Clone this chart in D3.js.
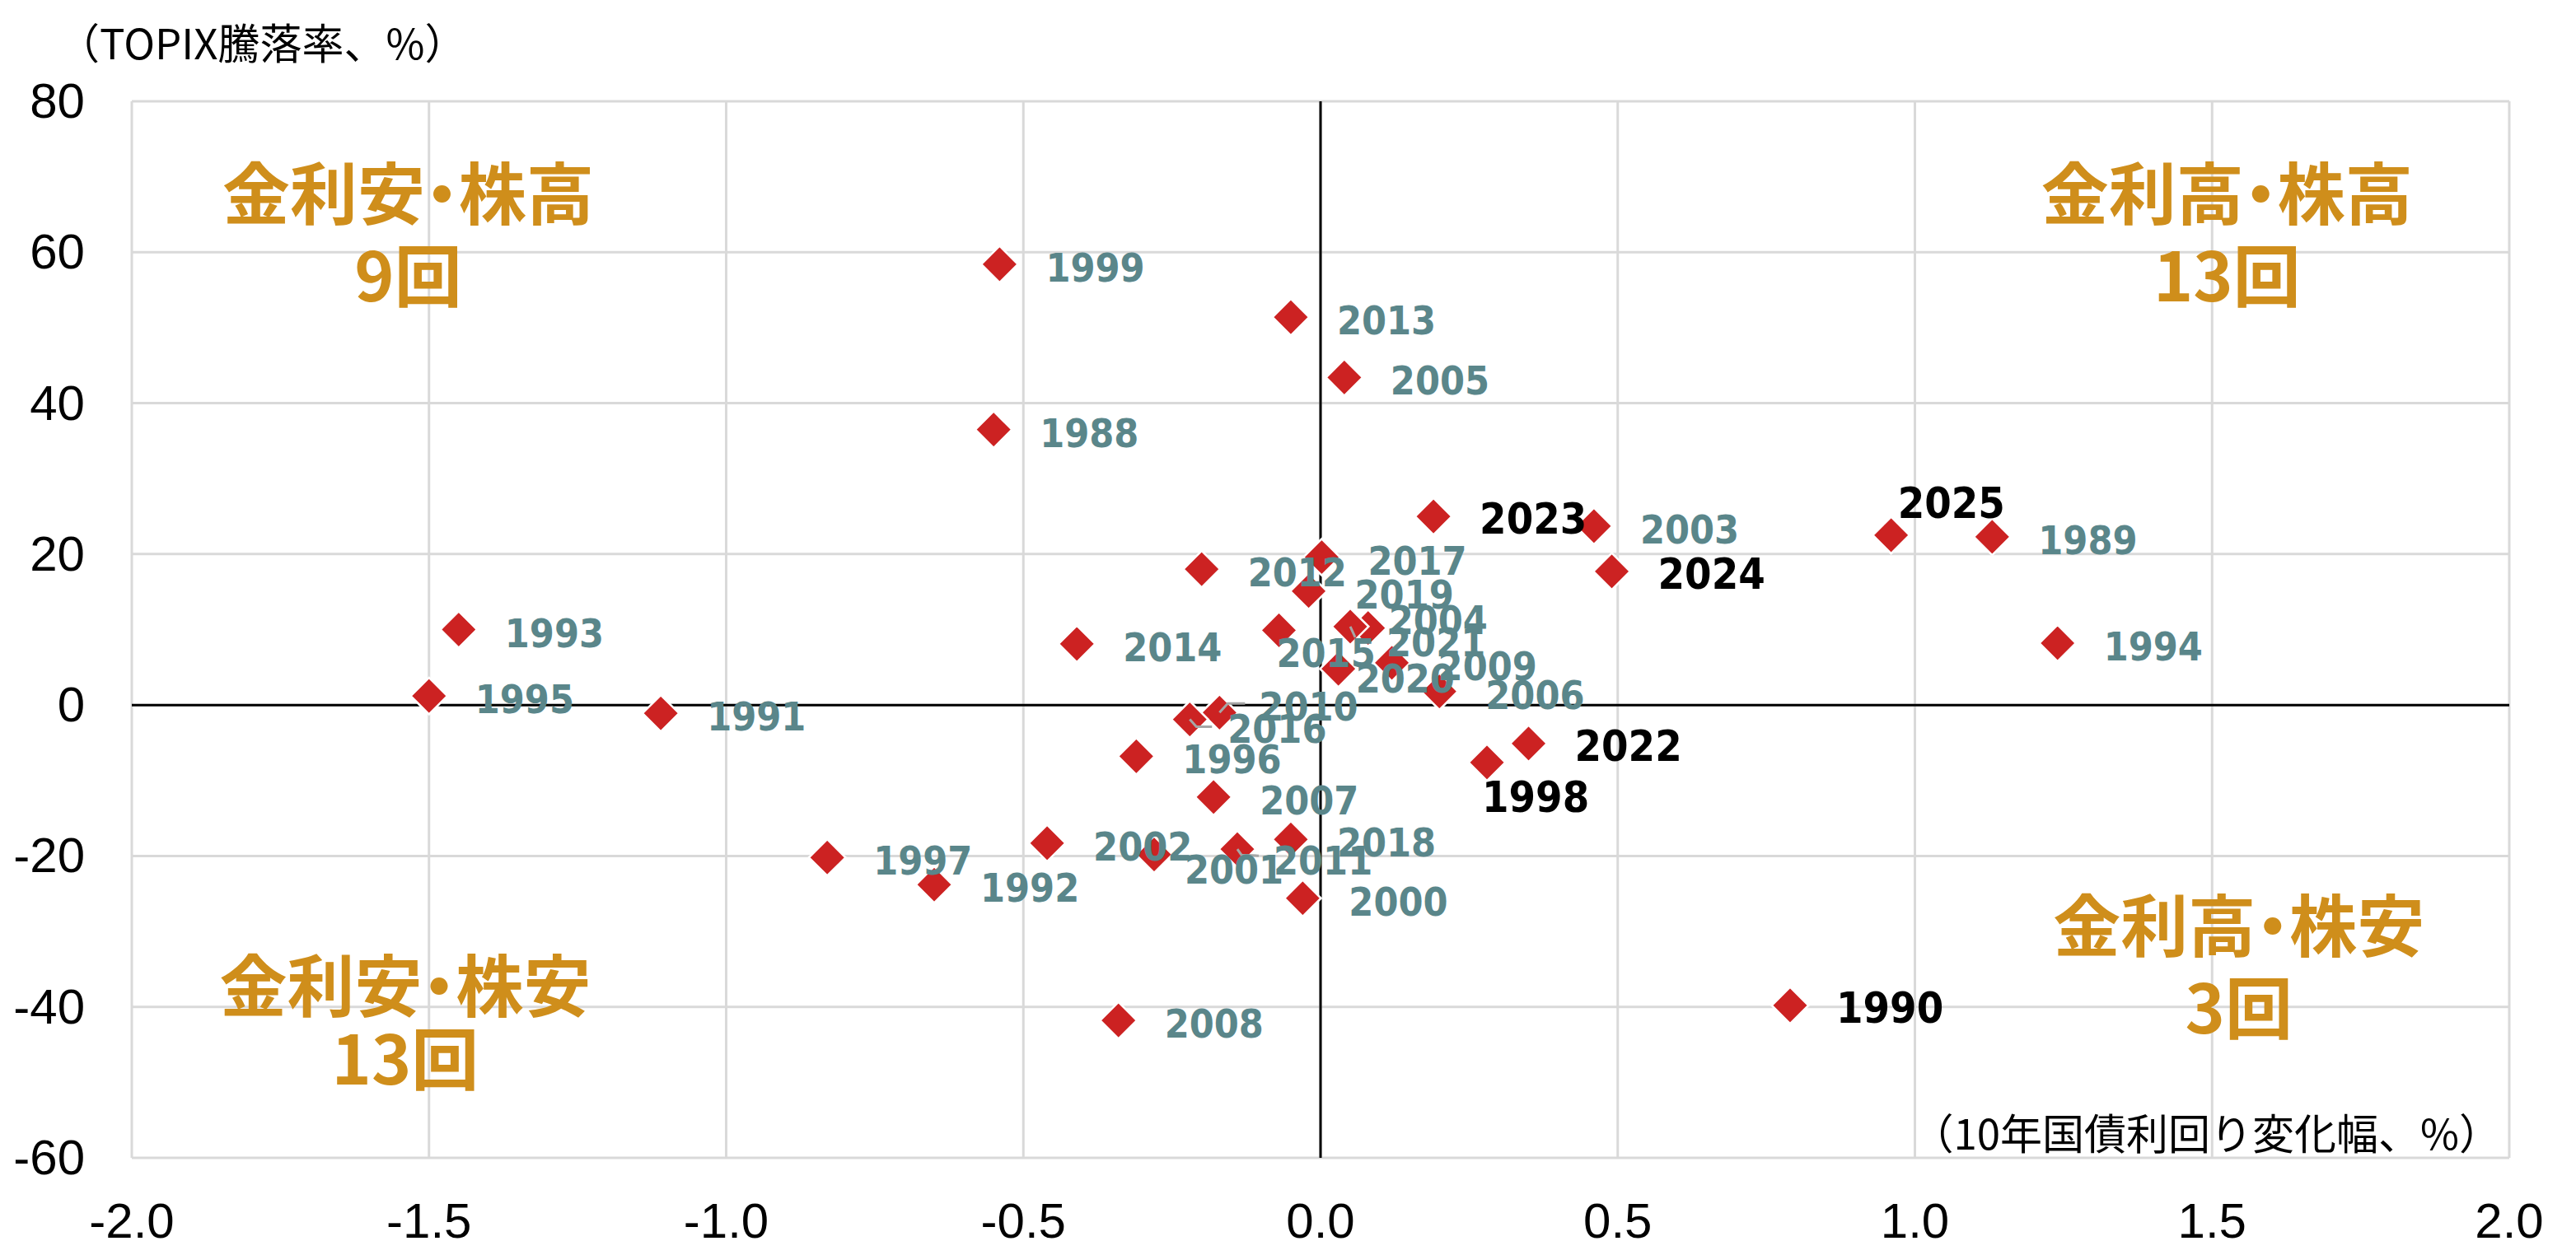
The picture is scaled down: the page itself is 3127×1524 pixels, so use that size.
<!DOCTYPE html>
<html>
<head>
<meta charset="utf-8">
<script src="https://cdn.jsdelivr.net/npm/d3@7"></script>
<style>
  body { margin:0; background:#fff; }
  .tick-label { font-family:'Liberation Sans', Arial, sans-serif; font-size:60px; fill:#000; }
  .axis-title { font-family:'Noto Sans CJK JP', sans-serif; font-size:51px; fill:#000; }
  .quad { font-family:'Noto Sans CJK JP', sans-serif; font-weight:700; font-size:82px; fill:#CF8E1B; text-anchor:middle;
          font-feature-settings:'palt'; }
  .year { font-family:'DejaVu Sans Condensed','DejaVu Sans', sans-serif; font-stretch:condensed; font-weight:700; font-size:48px; fill:#5A868A; }
  .year.hot { fill:#000; font-size:52px; }
</style>
</head>
<body>
<svg id="chart" width="3127" height="1524"></svg>
<script>
// data: 10y JGB yield change (%pt) vs TOPIX annual change (%)
var years = [1988,1989,1990,1991,1992,1993,1994,1995,1996,1997,1998,1999,2000,2001,2002,2003,2004,2005,2006,
             2007,2008,2009,2010,2011,2012,2013,2014,2015,2016,2017,2018,2019,2020,2021,2022,2023,2024,2025];
var rateChange = [-0.55,1.13,0.79,-1.11,-0.65,-1.45,1.24,-1.50,-0.31,-0.83,0.28,-0.54,-0.03,-0.28,-0.46,0.46,0.08,0.04,0.20,
                  -0.18,-0.34,0.12,-0.17,-0.14,-0.20,-0.05,-0.41,-0.07,-0.22,0.002,-0.05,-0.02,0.03,0.05,0.35,0.19,0.49,0.96];
var topixChange = [36.5,22.3,-39.8,-1.1,-23.8,10.0,8.2,1.2,-6.8,-20.2,-7.6,58.4,-25.6,-19.8,-18.3,23.7,10.2,43.4,1.8,
                   -12.2,-41.8,5.6,-1.0,-19.1,18.0,51.4,8.1,9.9,-1.9,19.6,-17.8,15.1,4.8,10.4,-5.1,25.0,17.7,22.5];
var blackYears = [1990,1998,2022,2023,2024,2025];
var xTicks = [-2.0,-1.5,-1.0,-0.5,0.0,0.5,1.0,1.5,2.0];
var yTicks = [-60,-40,-20,0,20,40,60,80];
var quadNames = ['金利安・株高','金利高・株高','金利安・株安','金利高・株安'];

// label nudges (px) where the default right-side label was moved
var labelNudge = {
  2025:[8,-39], 1998:[-6,42], 2004:[25,-11], 2021:[44,18], 2015:[-3,27], 2020:[21,11],
  2010:[48,-8], 2016:[46,10], 2011:[44,13], 2001:[37,17]
};
var leaders = {
  2010:[[10,-11],[31,-11]], 2016:[[8,9],[27,9]], 2011:[[5,7],[26,8]], 2021:[[6,13]]
};
// quadrant text position, in data units: [x, line1 y, line2 y]
var quadPos = [[-1.535,64.4,53.5],[1.525,64.4,53.5],[-1.54,-40.6,-50.3],[1.545,-32.6,-43.5]];

var pts = years.map(function(y,i){ return {year:y, rate:rateChange[i], topix:topixChange[i]}; });

var svg = d3.select('#chart');
var scaleX = d3.scaleLinear().domain([-2,2]).range([160,3046]);
var scaleY = d3.scaleLinear().domain([-60,80]).range([1406,123]);

// grid
svg.selectAll('.vgrid').data(xTicks).enter().append('line')
   .attr('x1',function(d){return scaleX(d);}).attr('x2',function(d){return scaleX(d);})
   .attr('y1',scaleY(-60)).attr('y2',scaleY(80))
   .style('stroke','#D9D9D9').style('stroke-width',3);
svg.selectAll('.hgrid').data(yTicks).enter().append('line')
   .attr('x1',scaleX(-2)).attr('x2',scaleX(2))
   .attr('y1',function(d){return scaleY(d);}).attr('y2',function(d){return scaleY(d);})
   .style('stroke','#D9D9D9').style('stroke-width',3);

// zero axes
svg.append('line').attr('x1',scaleX(-2)).attr('x2',scaleX(2)).attr('y1',scaleY(0)).attr('y2',scaleY(0))
   .style('stroke','#000').style('stroke-width',3);
svg.append('line').attr('x1',scaleX(0)).attr('x2',scaleX(0)).attr('y1',scaleY(-60)).attr('y2',scaleY(80))
   .style('stroke','#000').style('stroke-width',3);

// tick labels
svg.selectAll('.xt').data(xTicks).enter().append('text')
   .attr('class','tick-label').attr('text-anchor','middle')
   .attr('x',function(d){return scaleX(d);}).attr('y',1503)
   .text(function(d){return d.toFixed(1);});
svg.selectAll('.yt').data(yTicks).enter().append('text')
   .attr('class','tick-label').attr('text-anchor','end')
   .attr('x',103).attr('y',function(d){return scaleY(d)+20;})
   .text(function(d){return d;});

// axis titles
svg.append('text').attr('class','axis-title').attr('x',70).attr('y',72).text('（TOPIX騰落率、%）');
svg.append('text').attr('class','axis-title').attr('text-anchor','end').attr('x',3036).attr('y',1396)
   .text('（10年国債利回り変化幅、%）');

// quadrant labels with counts
var counts = [0,0,0,0];
pts.forEach(function(p){
  var q = (p.topix > 0 ? 0 : 2) + (p.rate > 0 ? 1 : 0);
  counts[q]++;
});
quadNames.forEach(function(name,i){
  var g = svg.append('g');
  g.append('text').attr('class','quad').attr('x',scaleX(quadPos[i][0])).attr('y',scaleY(quadPos[i][1])).text(name);
  g.append('text').attr('class','quad').attr('x',scaleX(quadPos[i][0])).attr('y',scaleY(quadPos[i][2])).text(counts[i]+'回');
});

// diamonds
var diamond = d3.symbolDiamond2 || {draw:function(ctx,size){
  var r = Math.sqrt(size)*0.62625;
  ctx.moveTo(0,-r); ctx.lineTo(r,0); ctx.lineTo(0,r); ctx.lineTo(-r,0); ctx.closePath();
}};
svg.selectAll('.pt').data(pts).enter().append('path')
   .attr('d',d3.symbol().type(diamond).size(1260))
   .attr('transform',function(d){return 'translate('+scaleX(d.rate)+','+scaleY(d.topix)+')';})
   .style('fill','#CC2222').style('stroke','#fff').style('stroke-width',2.5);

// leader lines
pts.filter(function(d){return leaders[d.year];}).forEach(function(d){
  var px = scaleX(d.rate), py = scaleY(d.topix);
  var line = [[px,py]].concat(leaders[d.year].map(function(o){return [px+o[0],py+o[1]];}));
  svg.append('path').attr('d',d3.line()(line))
     .style('fill','none').style('stroke','#A6A6A6').style('stroke-width',3);
});

// year labels
svg.selectAll('.year').data(pts).enter().append('text')
   .attr('class',function(d){return blackYears.indexOf(d.year) >= 0 ? 'year hot' : 'year';})
   .attr('x',function(d){var n = labelNudge[d.year]; return scaleX(d.rate) + (n ? n[0] : 56);})
   .attr('y',function(d){var n = labelNudge[d.year]; return scaleY(d.topix) + (n ? n[1] : 3) + 18;})
   .text(function(d){return d.year;});
</script>
</body>
</html>
